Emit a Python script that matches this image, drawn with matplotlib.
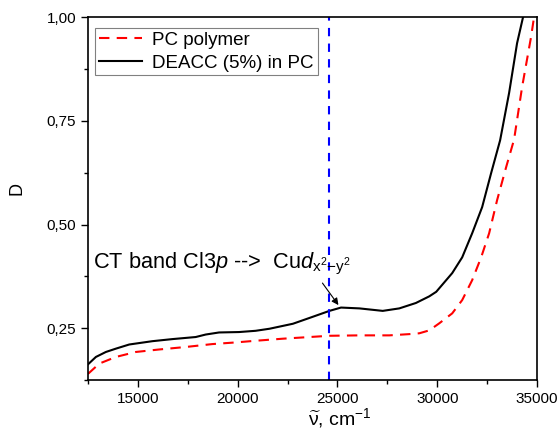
import matplotlib
matplotlib.use("Agg")
import matplotlib.pyplot as plt
from matplotlib.ticker import FixedLocator

plt.rcParams['font.family'] = ['Liberation Sans', 'DejaVu Sans']
plt.rcParams['mathtext.fontset'] = 'custom'
plt.rcParams['mathtext.rm'] = 'Liberation Sans'
plt.rcParams['mathtext.it'] = 'Liberation Sans:italic'

# Data (wavenumber, cm^-1 ; optical density D)
pc_x = [12500, 13070, 13900, 14900, 16070, 17400, 18730, 19900, 20900, 22270, 24600,
        26100, 27600, 28600, 29100, 29600, 30100, 30750, 31250, 31750, 32200, 32600,
        33000, 33450, 33850, 34250, 34700, 34850]
pc_y = [0.140, 0.165, 0.181, 0.193, 0.199, 0.205, 0.212, 0.216, 0.220, 0.225, 0.232,
        0.233, 0.233, 0.236, 0.238, 0.245, 0.262, 0.286, 0.318, 0.366, 0.421, 0.479,
        0.559, 0.638, 0.705, 0.831, 0.952, 1.000]

deacc_x = [12500, 12900, 13400, 13900, 14570, 15730, 16730, 17900, 18400, 19070, 20070,
           20900, 21600, 22770, 23600, 24600, 25180, 26100, 27270, 28100, 28930, 29600,
           29950, 30750, 31250, 31750, 32250, 32700, 33150, 33600, 34000, 34300]
deacc_y = [0.163, 0.181, 0.193, 0.201, 0.211, 0.219, 0.224, 0.229, 0.235, 0.240, 0.241,
           0.244, 0.249, 0.261, 0.275, 0.292, 0.300, 0.298, 0.292, 0.298, 0.311, 0.327,
           0.338, 0.383, 0.421, 0.479, 0.542, 0.624, 0.703, 0.817, 0.937, 1.000]

band_x = 24600

xticks = [15000, 20000, 25000, 30000, 35000]
yticks = [0.25, 0.50, 0.75, 1.00]
ytick_labels = ["0,25", "0,50", "0,75", "1,00"]

fig = plt.figure(figsize=(5.6, 4.37), dpi=100)
ax = fig.add_axes([0.157, 0.130, 0.802, 0.831])

ax.plot(pc_x, pc_y, color='red', lw=1.5, ls=(0, (5, 3.5)), label='PC polymer')
ax.plot(deacc_x, deacc_y, color='black', lw=1.5, label='DEACC (5%) in PC')
ax.axvline(band_x, color='blue', lw=1.5, ls=(0, (4, 3.5)))

ax.set_xlim(12500, 35000)
ax.set_ylim(0.125, 1.0)
ax.xaxis.set_major_locator(FixedLocator(xticks))
ax.xaxis.set_minor_locator(FixedLocator([12500, 17500, 22500, 27500, 32500]))
ax.yaxis.set_major_locator(FixedLocator(yticks))
ax.yaxis.set_minor_locator(FixedLocator([0.125, 0.375, 0.625, 0.875]))
ax.set_yticklabels(ytick_labels)
ax.tick_params(which='major', direction='out', length=5, width=1, labelsize=11)
ax.tick_params(which='minor', direction='out', length=3, width=1)
for s in ax.spines.values():
    s.set_linewidth(1.2)

ax.set_xlabel(r'$\widetilde{\mathrm{\nu}}$, cm$^{-1}$', fontsize=14)
ax.xaxis.set_label_coords(0.561, -0.072)
ax.set_ylabel('D', fontsize=13)
ax.yaxis.set_label_coords(-0.14, 0.529)

leg = ax.legend(loc='upper left', bbox_to_anchor=(0.016, 0.97), borderaxespad=0,
                fontsize=13.5, frameon=True, fancybox=False,
                edgecolor='gray', framealpha=1,
                handlelength=2.3, borderpad=0.2, labelspacing=0.3, handletextpad=0.55)
leg.get_frame().set_linewidth(0.8)

ax.text(12750, 0.395, r'CT band Cl3$p$ -->  Cu$d_{\mathrm{x}^2\mathrm{-y}^2}$',
        fontsize=15.7, va='baseline', ha='left')
ax.annotate('', xy=(25050, 0.306), xytext=(24250, 0.359),
            arrowprops=dict(arrowstyle='-|>', color='black', lw=0.8,
                            shrinkA=0, shrinkB=0, mutation_scale=10))

fig.savefig('out.png', dpi=100)
